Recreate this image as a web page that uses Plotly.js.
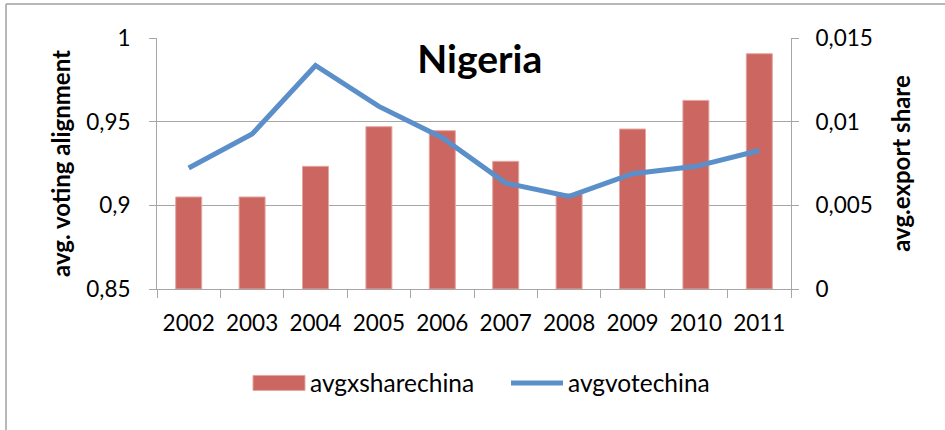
<!DOCTYPE html>
<html>
<head>
<meta charset="utf-8">
<script src="https://cdn.plot.ly/plotly-3.0.1.min.js"></script>
<style>
  html, body { margin: 0; padding: 0; background: #ffffff; }
  #chart { width: 945px; height: 430px; }
</style>
</head>
<body>
<div id="chart"></div>
<script>
// ---- data ----
const years = ['2002', '2003', '2004', '2005', '2006', '2007', '2008', '2009', '2010', '2011'];
const exportShare = [0.0055, 0.0055, 0.00733, 0.0097, 0.00946, 0.00763, 0.00568, 0.00956, 0.01127, 0.01406];
const voteAlignment = [0.9223, 0.9426, 0.9836, 0.9591, 0.9404, 0.9133, 0.9053, 0.9189, 0.9233, 0.9328];
const barName = 'avgxsharechina';
const lineName = 'avgvotechina';
const chartTitle = 'Nigeria';
const leftTitle = 'avg. voting alignment';
const rightTitle = 'avg.export share';
const leftTicks = [0.85, 0.9, 0.95, 1];
const rightTicks = [0, 0.005, 0.01, 0.015];

const FONT = 'Lato, "Open Sans", sans-serif';
const GRID = '#a6a6a6';

const traces = [
  {
    type: 'bar',
    name: barName,
    x: years,
    y: exportShare,
    yaxis: 'y',
    marker: { color: '#cc6660', line: { color: '#e4a6a1', width: 1 } },
    hoverinfo: 'x+y'
  },
  {
    type: 'scatter',
    mode: 'lines',
    name: lineName,
    x: years,
    y: voteAlignment,
    yaxis: 'y2',
    line: { color: '#5b8fc9', width: 5 },
    hoverinfo: 'x+y'
  }
];

const layout = {
  width: 945,
  height: 430,
  autosize: false,
  margin: { l: 157, r: 154, t: 38, b: 141, pad: 0 },
  paper_bgcolor: '#ffffff',
  plot_bgcolor: '#ffffff',
  separators: ', ',
  font: { family: FONT, size: 22, color: '#000000' },
  showlegend: true,
  bargap: 0.59,
  title: {
    text: chartTitle,
    font: { family: FONT, size: 39, color: '#000000', weight: 'bold' },
    xref: 'paper',
    x: 0.509,
    xanchor: 'center',
    yref: 'container',
    y: 1 - 59 / 430,
    yanchor: 'middle'
  },
  xaxis: {
    type: 'category',
    showline: true,
    linecolor: GRID,
    linewidth: 1,
    ticks: 'outside',
    tickson: 'boundaries',
    ticklen: 8,
    tickcolor: GRID,
    tickwidth: 1,
    ticklabelstandoff: 14,
    tickfont: { family: FONT, size: 22.5, color: '#000000' },
    showgrid: false,
    zeroline: false,
    fixedrange: true
  },
  yaxis: {
    side: 'right',
    range: [0, 0.015],
    tickvals: rightTicks,
    showline: true,
    linecolor: GRID,
    linewidth: 1,
    ticks: 'outside',
    ticklen: 7,
    tickcolor: GRID,
    tickwidth: 1,
    ticklabelstandoff: 12,
    showgrid: true,
    gridcolor: GRID,
    gridwidth: 1,
    zeroline: false,
    tickfont: { family: FONT, size: 22.5, color: '#000000' },
    title: {
      text: rightTitle,
      font: { family: FONT, size: 24, color: '#000000', weight: 'bold' },
      standoff: 21
    },
    fixedrange: true
  },
  yaxis2: {
    overlaying: 'y',
    side: 'left',
    range: [0.85, 1],
    tickvals: leftTicks,
    showline: true,
    linecolor: GRID,
    linewidth: 1,
    ticks: 'outside',
    ticklen: 7,
    tickcolor: GRID,
    tickwidth: 1,
    ticklabelstandoff: 14,
    showgrid: false,
    zeroline: false,
    tickfont: { family: FONT, size: 22.5, color: '#000000' },
    title: {
      text: leftTitle,
      font: { family: FONT, size: 24, color: '#000000', weight: 'bold' },
      standoff: 8
    },
    fixedrange: true
  },
  legend: {
    orientation: 'h',
    x: (248 - 157) / 634,
    xanchor: 'left',
    y: (289 - 383) / 251,
    yanchor: 'middle',
    itemwidth: 52,
    entrywidth: 191,
    entrywidthmode: 'pixels',
    font: { family: FONT, size: 24.5, color: '#000000' },
    bgcolor: 'rgba(0,0,0,0)',
    traceorder: 'normal'
  },
  shapes: [
    { type: 'line', xref: 'paper', yref: 'paper',
      x0: (6 - 157) / 634, x1: (6 - 157) / 634, y0: (289 - 4) / 251, y1: (289 - 440) / 251,
      line: { color: '#a0a0a0', width: 1.5 } },
    { type: 'line', xref: 'paper', yref: 'paper',
      x0: (6 - 157) / 634, x1: (960 - 157) / 634, y0: (289 - 4) / 251, y1: (289 - 4) / 251,
      line: { color: '#a0a0a0', width: 1.5 } }
  ]
};

function widenBarSwatch() {
  const groups = document.querySelectorAll('#chart .legend .traces');
  if (!groups.length) return;
  const pts = groups[0].querySelectorAll('.legendpoints path');
  pts.forEach(function (p) {
    const d = p.getAttribute('d') || '';
    if (/H/.test(d) && /V/.test(d)) {
      p.setAttribute('d', 'M26,7.5H-26V-7.5H26Z');
    }
  });
}

Plotly.newPlot('chart', traces, layout, { staticPlot: true, displayModeBar: false })
  .then(widenBarSwatch);
</script>
</body>
</html>
